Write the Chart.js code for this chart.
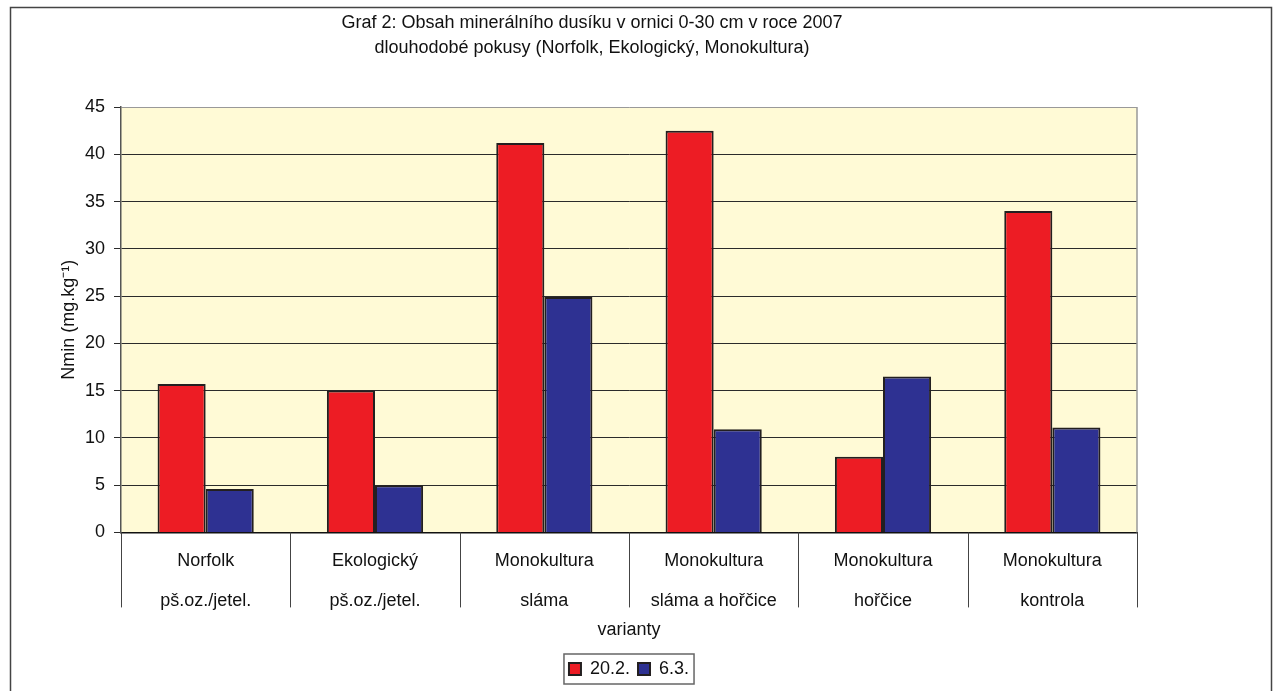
<!DOCTYPE html>
<html>
<head>
<meta charset="utf-8">
<script src="https://cdn.jsdelivr.net/npm/chart.js@4"></script>
<style>
  html, body { margin: 0; padding: 0; background: #fff; }
  #wrap { width: 1281px; height: 691px; position: relative; }
</style>
</head>
<body>
<div id="wrap"><canvas id="nmin-chart"></canvas></div>
<script>
// data
const categories = [
  ["Norfolk", "pš.oz./jetel."],
  ["Ekologický", "pš.oz./jetel."],
  ["Monokultura", "sláma"],
  ["Monokultura", "sláma a hořčice"],
  ["Monokultura", "hořčice"],
  ["Monokultura", "kontrola"],
];
const seriesNames = ["20.2.", "6.3."];
const feb20 = [15.7, 15.0, 41.2, 42.5, 8.0, 34.0];
const mar6 = [4.6, 5.0, 24.9, 10.9, 16.5, 11.1];
const titleLines = [
  "Graf 2: Obsah minerálního dusíku v ornici 0-30 cm v roce 2007",
  "dlouhodobé pokusy (Norfolk, Ekologický, Monokultura)",
];
const yTitle = "Nmin (mg.kg⁻¹)";
const xTitle = "varianty";

const FONT = "'Liberation Sans', Arial, sans-serif";
Chart.defaults.font.family = FONT;
Chart.defaults.font.size = 18;
Chart.defaults.color = "#111";

// frame, plot background, right border, title, legend box, category separators
const decor = {
  id: "decor",
  beforeDraw(chart) {
    const { ctx, chartArea: a } = chart;
    ctx.save();
    ctx.fillStyle = "#fff";
    ctx.fillRect(0, 0, chart.width, chart.height);
    ctx.strokeStyle = "#444";
    ctx.lineWidth = 1.5;
    ctx.strokeRect(10.5, 7.5, 1261, 720);
    ctx.fillStyle = "#fffad6";
    ctx.fillRect(a.left, a.top, a.right - a.left, a.bottom - a.top);
    ctx.restore();
  },
  afterDraw(chart) {
    const { ctx, chartArea: a } = chart;
    const x = chart.scales.x;
    ctx.save();
    ctx.strokeStyle = "#999";
    ctx.lineWidth = 1.5;
    ctx.beginPath();
    ctx.moveTo(a.right, a.top);
    ctx.lineTo(a.right, a.bottom);
    ctx.stroke();

    // separators between categories, down through the label rows
    const half = (x.getPixelForTick(1) - x.getPixelForTick(0)) / 2;
    ctx.strokeStyle = "#444";
    ctx.lineWidth = 1;
    ctx.beginPath();
    for (let i = 0; i <= categories.length; i++) {
      const px = Math.round(x.getPixelForTick(0) - half + i * 2 * half) + 0.5;
      ctx.moveTo(px, a.bottom);
      ctx.lineTo(px, a.bottom + 75);
    }
    ctx.stroke();

    ctx.fillStyle = "#111";
    ctx.font = "18px " + FONT;
    ctx.textAlign = "center";
    ctx.textBaseline = "middle";
    ctx.fillText(titleLines[0], 592, 23);
    ctx.fillText(titleLines[1], 592, 48);

    const boxes = chart.legend.legendHitBoxes;
    if (boxes.length) {
      const l = boxes[0].left - 5;
      const r = boxes[boxes.length - 1].left + boxes[boxes.length - 1].width + 5;
      const t = boxes[0].top - 6;
      const b = boxes[0].top + boxes[0].height + 6;
      ctx.strokeStyle = "#666";
      ctx.lineWidth = 1.5;
      ctx.strokeRect(l, t, r - l, b - t);
    }
    ctx.restore();
  },
};

new Chart(document.getElementById("nmin-chart"), {
  type: "bar",
  data: {
    labels: categories,
    datasets: [
      {
        label: seriesNames[0],
        data: feb20,
        backgroundColor: "#ed1c24",
        borderColor: "#231f20",
        borderWidth: 2,
      },
      {
        label: seriesNames[1],
        data: mar6,
        backgroundColor: "#2e3192",
        borderColor: "#231f20",
        borderWidth: 2,
      },
    ],
  },
  plugins: [decor],
  options: {
    responsive: true,
    maintainAspectRatio: false,
    animation: false,
    devicePixelRatio: 1,
    layout: { padding: { top: 107, right: 144, left: 0, bottom: 3 } },
    datasets: { bar: { categoryPercentage: 0.568, barPercentage: 1 } },
    plugins: {
      title: { display: false },
      tooltip: { enabled: false },
      legend: {
        position: "bottom",
        fullSize: false,
        labels: {
          boxWidth: 12,
          boxHeight: 12,
          padding: 8,
          color: "#111",
          font: { size: 18 },
        },
      },
    },
    scales: {
      x: {
        grid: { display: false },
        border: { color: "#111", width: 1.5 },
        ticks: {
          padding: 1,
          font: { size: 18, lineHeight: 2.222 },
          color: "#111",
          maxRotation: 0,
          autoSkip: false,
        },
        title: {
          display: true,
          text: xTitle,
          font: { size: 18 },
          color: "#111",
          padding: { top: -3, bottom: 11 },
        },
      },
      y: {
        min: 0,
        max: 45,
        ticks: { stepSize: 5, padding: 9, font: { size: 18 }, color: "#111" },
        grid: {
          color: (c) => (c.tick && c.tick.value === 45 ? "#999" : "#2b2b2b"),
          tickColor: "#2b2b2b",
          tickLength: 7,
          lineWidth: 1,
        },
        border: { color: "#555", width: 1.5 },
        title: {
          display: true,
          text: yTitle,
          font: { size: 18 },
          color: "#111",
          padding: { top: 58, bottom: 0 },
        },
        afterFit(scale) {
          scale.width = 121;
        },
      },
    },
  },
});
</script>
</body>
</html>
